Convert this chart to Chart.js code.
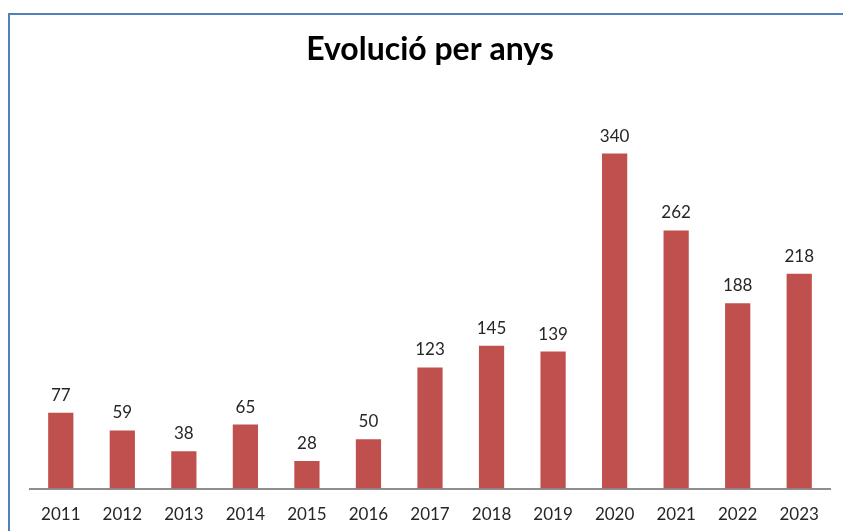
<!DOCTYPE html>
<html>
<head>
<meta charset="utf-8">
<script src="https://cdn.jsdelivr.net/npm/chart.js@4"></script>
<style>
  html, body { margin: 0; padding: 0; background: #fff; overflow: hidden; }
  #wrap { position: relative; width: 843px; height: 531px; }
  #frame { position: absolute; left: 8px; top: 13px; width: 900px; height: 600px;
           border-left: 2px solid #4f81bd; border-top: 2px solid #4f81bd; }
  canvas { position: absolute; left: 0; top: 0; }
</style>
</head>
<body>
<div id="wrap">
  <div id="frame"></div>
  <canvas id="chart" width="843" height="531"></canvas>
</div>
<script>
// Data
const years = ['2011','2012','2013','2014','2015','2016','2017','2018','2019','2020','2021','2022','2023'];
const counts = [77, 59, 38, 65, 28, 50, 123, 145, 139, 340, 262, 188, 218];
const chartTitle = 'Evolució per anys';

// Value labels above the bars
const valueLabels = {
  id: 'valueLabels',
  afterDatasetsDraw(chart) {
    const ctx = chart.ctx;
    const meta = chart.getDatasetMeta(0);
    ctx.save();
    ctx.font = '17px Lato';
    ctx.fillStyle = '#262626';
    ctx.textAlign = 'center';
    ctx.textBaseline = 'alphabetic';
    meta.data.forEach((bar, i) => {
      ctx.fillText(counts[i], bar.x, bar.y - 12);
    });
    ctx.restore();
  }
};

new Chart(document.getElementById('chart').getContext('2d'), {
  type: 'bar',
  data: {
    labels: years,
    datasets: [{
      data: counts,
      backgroundColor: '#c0504d',
      barPercentage: 0.41,
      categoryPercentage: 1
    }]
  },
  options: {
    responsive: false,
    animation: false,
    layout: { padding: { left: 30, right: 13, top: 0, bottom: -10 } },
    plugins: {
      legend: { display: false },
      tooltip: { enabled: false },
      title: {
        display: true,
        text: chartTitle,
        color: '#000',
        font: { family: 'Lato', size: 32, weight: 'bold' },
        padding: { top: 30, bottom: 26 }
      }
    },
    scales: {
      x: {
        grid: { display: false, drawTicks: false },
        border: { display: true, color: '#8e8e8e', width: 2 },
        ticks: { color: '#262626', font: { family: 'Lato', size: 17 }, padding: 16 }
      },
      y: {
        display: false,
        min: 0,
        max: 400
      }
    }
  },
  plugins: [valueLabels]
});
</script>
</body>
</html>
